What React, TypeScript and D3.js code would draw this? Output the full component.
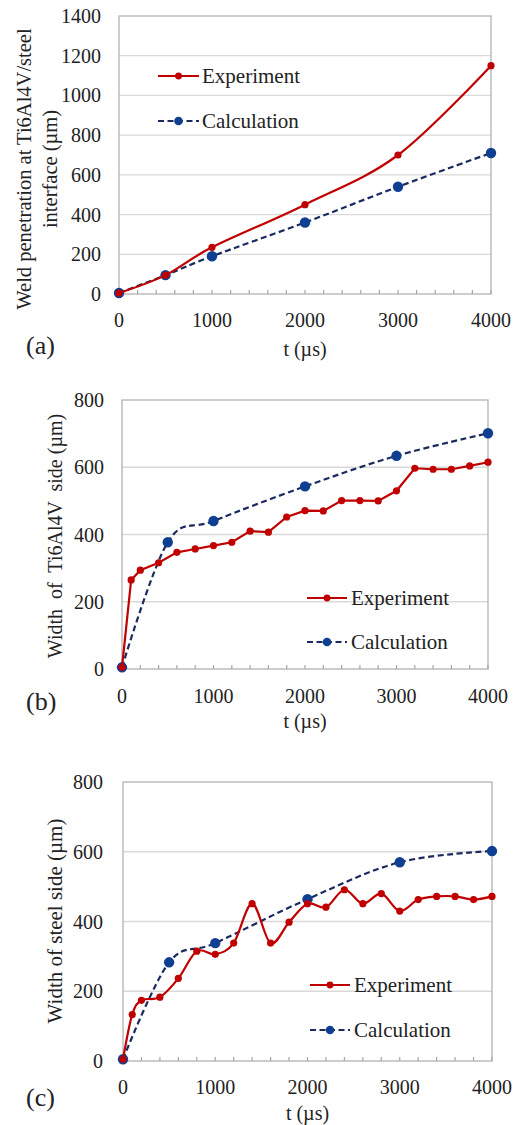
import React, { useEffect, useRef } from 'react';
import * as d3 from 'd3';

// time points
const tCoarse = [0, 500, 1000, 2000, 3000, 4000];
const tFine = [0, 100, 200, 400, 600, 800, 1000, 1200, 1400, 1600, 1800, 2000, 2200, 2400, 2600, 2800, 3000, 3200, 3400, 3600, 3800, 4000];

// (a) weld penetration
const expA = [5, 95, 235, 450, 700, 1150];
const calcA = [5, 95, 190, 360, 540, 710];

// (b) width of Ti6Al4V side
const expB = [5, 265, 294, 316, 347, 357, 367, 377, 410, 407, 452, 471, 470, 501, 501, 500, 530, 597, 594, 594, 604, 615];
const calcB = [5, 377, 440, 543, 634, 701];

// (c) width of steel side
const expC = [5, 133, 174, 183, 237, 315, 306, 338, 451, 338, 398, 451, 441, 491, 451, 480, 430, 463, 472, 472, 463, 472];
const calcC = [5, 283, 338, 464, 570, 602];

const xTicks = [0, 1000, 2000, 3000, 4000];
const yTicksA = [0, 200, 400, 600, 800, 1000, 1200, 1400];
const yTicksBC = [0, 200, 400, 600, 800];

const RED = '#C00000';
const NAVY = '#1B2A5E';
const BLUE = '#0F3F91';
const FONT = 'Liberation Serif, DejaVu Serif, serif';

const App: React.FC = () => {
  const ref = useRef<SVGSVGElement>(null);

  useEffect(() => {
    const svg = d3.select(ref.current);
    svg.selectAll('*').remove();
    svg.attr('font-family', FONT);

    const panels = [
      {
        box: { left: 119, right: 491, top: 16, bottom: 294 }, yMax: 1400, yTicks: yTicksA,
        exp: tCoarse.map((t, i) => [t, expA[i]]), expSmooth: true,
        calc: tCoarse.map((t, i) => [t, calcA[i]]),
        titleLines: ['Weld penetration at Ti6Al4V/steel', 'interface (µm)'], titleX: [31, 57], titleY: 169, titleSize: 20.5,
        tickRight: 101, xLabelY: 327, xTitleY: 356, label: '(a)', labelY: 354,
        legend: { x1: 158, x2: 199, text: 202, y1: 76, y2: 121 },
      },
      {
        box: { left: 122, right: 488, top: 400, bottom: 669 }, yMax: 800, yTicks: yTicksBC,
        exp: tFine.map((t, i) => [t, expB[i]]), expSmooth: false,
        calc: tCoarse.map((t, i) => [t, calcB[i]]),
        titleLines: ['Width  of  Ti6Al4V  side (µm)'], titleX: [62], titleY: 536, titleSize: 20,
        tickRight: 104, xLabelY: 703, xTitleY: 728, label: '(b)', labelY: 710,
        legend: { x1: 307, x2: 347, text: 351, y1: 598, y2: 642 },
      },
      {
        box: { left: 123, right: 492, top: 782, bottom: 1061 }, yMax: 800, yTicks: yTicksBC,
        exp: tFine.map((t, i) => [t, expC[i]]), expSmooth: true,
        calc: tCoarse.map((t, i) => [t, calcC[i]]),
        titleLines: ['Width of steel side (µm)'], titleX: [62], titleY: 921, titleSize: 21,
        tickRight: 103, xLabelY: 1094, xTitleY: 1120, label: '(c)', labelY: 1106,
        legend: { x1: 310, x2: 350, text: 354, y1: 985, y2: 1030 },
      },
    ];

    panels.forEach((p) => {
      const g = svg.append('g');
      const x = d3.scaleLinear().domain([0, 4000]).range([p.box.left, p.box.right]);
      const y = d3.scaleLinear().domain([0, p.yMax]).range([p.box.bottom, p.box.top]);

      // gridlines
      g.selectAll('.grid')
        .data(p.yTicks.slice(1, -1))
        .join('line')
        .attr('x1', p.box.left).attr('x2', p.box.right)
        .attr('y1', (d) => y(d)).attr('y2', (d) => y(d))
        .attr('stroke', '#d9d9d9').attr('stroke-width', 1.3);

      // plot frame
      g.append('rect')
        .attr('x', p.box.left).attr('y', p.box.top)
        .attr('width', p.box.right - p.box.left).attr('height', p.box.bottom - p.box.top)
        .attr('fill', 'none').attr('stroke', '#b3b3b3').attr('stroke-width', 1.3);

      // minor x ticks every 200
      g.selectAll('.xt')
        .data(d3.range(0, 4001, 200))
        .join('line')
        .attr('x1', (d) => x(d)).attr('x2', (d) => x(d))
        .attr('y1', p.box.bottom).attr('y2', p.box.bottom - 4)
        .attr('stroke', '#a6a6a6').attr('stroke-width', 1.2);

      // tick labels
      g.selectAll('.xl')
        .data(xTicks)
        .join('text')
        .attr('x', (d) => x(d)).attr('y', p.xLabelY)
        .attr('text-anchor', 'middle')
        .attr('font-size', 20).attr('fill', '#222')
        .text((d) => d);

      g.selectAll('.yl')
        .data(p.yTicks)
        .join('text')
        .attr('x', p.tickRight).attr('y', (d) => y(d) + 7)
        .attr('text-anchor', 'end')
        .attr('font-size', 20).attr('fill', '#222')
        .text((d) => d);

      // axis titles
      p.titleLines.forEach((line, i) => {
        g.append('text')
          .attr('transform', `translate(${p.titleX[i]},${p.titleY}) rotate(-90)`)
          .attr('text-anchor', 'middle')
          .attr('font-size', p.titleSize)
          .style('white-space', 'pre').attr('fill', '#222')
          .text(line);
      });
      g.append('text')
        .attr('x', (p.box.left + p.box.right) / 2).attr('y', p.xTitleY)
        .attr('text-anchor', 'middle')
        .attr('font-size', 20).attr('fill', '#222')
        .text('t (µs)');
      g.append('text')
        .attr('x', 26).attr('y', p.labelY)
        .attr('font-size', 26).attr('fill', '#222')
        .text(p.label);

      // series
      const smooth = d3.line<number[]>().x((d) => x(d[0])).y((d) => y(d[1])).curve(d3.curveCardinal.tension(0));
      const straight = d3.line<number[]>().x((d) => x(d[0])).y((d) => y(d[1]));

      g.append('path')
        .attr('d', smooth(p.calc as number[][]))
        .attr('fill', 'none').attr('stroke', NAVY).attr('stroke-width', 2.2)
        .attr('stroke-dasharray', '6,3.5');
      g.selectAll('.cm')
        .data(p.calc)
        .join('circle')
        .attr('cx', (d) => x(d[0])).attr('cy', (d) => y(d[1])).attr('r', 5.2)
        .attr('fill', BLUE);

      g.append('path')
        .attr('d', (p.expSmooth ? smooth : straight)(p.exp as number[][]))
        .attr('fill', 'none').attr('stroke', RED).attr('stroke-width', 2.2);
      g.selectAll('.em')
        .data(p.exp)
        .join('circle')
        .attr('cx', (d) => x(d[0])).attr('cy', (d) => y(d[1])).attr('r', 3.6)
        .attr('fill', RED);

      // legend
      const L = p.legend;
      const mid = (L.x1 + L.x2) / 2;
      g.append('line').attr('x1', L.x1).attr('x2', L.x2).attr('y1', L.y1).attr('y2', L.y1)
        .attr('stroke', RED).attr('stroke-width', 2.2);
      g.append('circle').attr('cx', mid).attr('cy', L.y1).attr('r', 3.4).attr('fill', RED);
      g.append('line').attr('x1', L.x1).attr('x2', L.x2).attr('y1', L.y2).attr('y2', L.y2)
        .attr('stroke', NAVY).attr('stroke-width', 2.2).attr('stroke-dasharray', '6,3.5');
      g.append('circle').attr('cx', mid).attr('cy', L.y2).attr('r', 4.3).attr('fill', BLUE);
      [['Experiment', L.y1], ['Calculation', L.y2]].forEach(([name, ly]) => {
        g.append('text')
          .attr('x', L.text).attr('y', (ly as number) + 7)
          .attr('font-size', 21).attr('fill', '#222')
          .text(name as string);
      });
    });
  }, []);

  return (
    <div style={{ position: 'absolute', left: 0, top: 0, background: '#fff' }}>
      <svg ref={ref} width={518} height={1125} style={{ display: 'block' }} />
    </div>
  );
};

export default App;
